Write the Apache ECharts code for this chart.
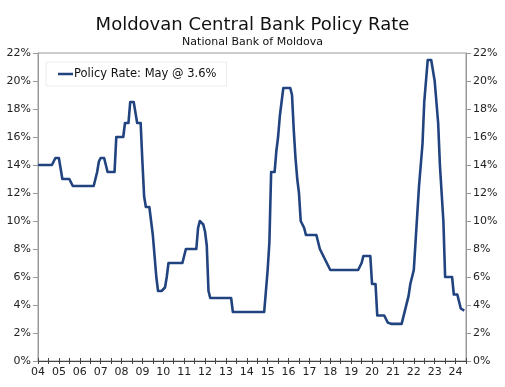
<!DOCTYPE html>
<html>
<head>
<meta charset="utf-8">
<script src="https://cdn.jsdelivr.net/npm/echarts@6/dist/echarts.min.js"></script>
<style>
html,body{margin:0;padding:0;background:#fff;}
#chart{width:505px;height:387px;}
</style>
</head>
<body>
<div id="chart"></div>
<script>
// Monthly policy rate (%), first value is Dec 2003, last is May 2024 (points at month end)
var firstYear = 2003, firstMonth = 12;
var policyRate = [
  14,
  14,14,14,14,14,14,14,14,14,14.5,14.5,14.5,                 // 2004
  14.5,13,13,13,13,13,13,12.5,12.5,12.5,12.5,12.5,           // 2005
  12.5,12.5,12.5,12.5,12.5,12.5,12.5,12.5,12.5,13.5,14.25,14.5, // 2006
  14.5,14.5,14.5,13.5,13.5,13.5,13.5,13.5,16,16,16,16,       // 2007
  16,17,17,17,18.5,18.5,18.5,18.5,17,17,17,14.25,            // 2008
  11.75,11,11,11,10,9,7.5,6,5,5,5,5,                         // 2009
  5.25,6,7,7,7,7,7,7,7,7,7,7,                                // 2010
  8,8,8,8,8,8,8,9.5,10,10,9.75,9.25,                         // 2011
  8.25,5,4.5,4.5,4.5,4.5,4.5,4.5,4.5,4.5,4.5,4.5,            // 2012
  4.5,4.5,4.5,3.5,3.5,3.5,3.5,3.5,3.5,3.5,3.5,3.5,           // 2013
  3.5,3.5,3.5,3.5,3.5,3.5,3.5,3.5,3.5,3.5,3.5,6.5,           // 2014
  8.5,13.5,13.5,13.5,15,16,17.5,17.5,19.5,19.5,19.5,19.5,    // 2015
  19.5,19,16.5,14.5,13,12,10,10,9.5,9,9,9,                   // 2016
  9,9,9,9,9,8,8,7.5,7.25,7,6.75,6.5,                         // 2017
  6.5,6.5,6.5,6.5,6.5,6.5,6.5,6.5,6.5,6.5,6.5,6.5,           // 2018
  6.5,6.5,6.5,6.5,6.5,7,7.5,7.5,7.5,7.5,7.5,5.5,             // 2019
  5.5,5.5,3.25,3.25,3.25,3.25,3.25,3,2.75,2.65,2.65,2.65,    // 2020
  2.65,2.65,2.65,2.65,2.65,2.65,3.65,3.65,4.65,5.5,5.5,6.5,  // 2021
  8.5,10.5,12.5,12.5,15.5,18.5,18.5,21.5,21.5,21.5,21.5,20,  // 2022
  20,17,14,14,10,6,6,6,6,6,4.75,4.75,                        // 2023
  4.75,4.25,3.75,3.75,3.6                                    // 2024
];
var yearLabels = ['04','05','06','07','08','09','10','11','12','13','14','15','16','17','18','19','20','21','22','23','24'];
var yTicks = [0,2,4,6,8,10,12,14,16,18,20,22];
var titleText = 'Moldovan Central Bank Policy Rate';
var subtitleText = 'National Bank of Moldova';
var seriesName = 'Policy Rate: May @ 3.6%';

var points = policyRate.map(function(v, i){
  var mIndex = (firstMonth) + i; // months since start of firstYear (month-end)
  return [firstYear + mIndex / 12, v];
});

var FONT = 'DejaVu Sans';
var chart = echarts.init(document.getElementById('chart'), null, {renderer:'canvas'});
function xLabel(v){
  var r = Math.round(v);
  if (Math.abs(v - r) > 1e-6) return '';
  var idx = r - 2004;
  return (idx >= 0 && idx < yearLabels.length) ? yearLabels[idx] : '';
}
var yAxisCommon = {
  type:'value', min: yTicks[0], max: yTicks[yTicks.length-1], interval: 2,
  splitLine:{show:false},
  axisLine:{show:true, lineStyle:{color:'#9a9a9a', width:1}},
  axisTick:{show:true, length:5, lineStyle:{color:'#9a9a9a'}},
  axisLabel:{formatter:'{value}%', color:'#222', fontFamily:FONT, fontSize:11, margin:7}
};
chart.setOption({
  animation:false,
  backgroundColor:'#fff',
  title:[
    {text:titleText, left:'center', top:11, textStyle:{fontFamily:FONT, fontSize:18, fontWeight:'normal', color:'#111'}},
    {text:subtitleText, left:'center', top:32, textStyle:{fontFamily:FONT, fontSize:11, fontWeight:'normal', color:'#111'}}
  ],
  legend:{
    left:46, top:62, padding:[6,10,6,12], orient:'vertical',
    backgroundColor:'#fff', borderColor:'#ececec', borderWidth:1,
    icon:'rect', itemWidth:15, itemHeight:2.5, itemGap:0,
    textStyle:{fontFamily:FONT, fontSize:11.5, color:'#111', padding:[0,0,0,-4]},
    data:[seriesName]
  },
  grid:{left:38, right:39, top:53, bottom:26, show:true, borderColor:'#9a9a9a', borderWidth:1},
  xAxis:[
    {type:'value', min:2004, max:2024.5, interval:0.5, position:'bottom',
     splitLine:{show:false},
     axisLine:{show:true, onZero:false, lineStyle:{color:'#444', width:1}},
     axisTick:{show:true, length:3, lineStyle:{color:'#444'}},
     axisLabel:{formatter:xLabel, color:'#222', fontFamily:FONT, fontSize:11, margin:6, showMaxLabel:true}},
    {type:'value', min:2004, max:2024.5, interval:0.5, position:'bottom',
     splitLine:{show:false},
     axisLine:{show:false},
     axisTick:{show:true, inside:true, length:3, lineStyle:{color:'#444'}},
     axisLabel:{show:false}}
  ],
  yAxis:[
    Object.assign({}, yAxisCommon, {position:'left'}),
    Object.assign({}, yAxisCommon, {position:'right'})
  ],
  series:[{
    name:seriesName, type:'line', xAxisIndex:0, yAxisIndex:0,
    data:points, symbol:'none', showSymbol:false,
    lineStyle:{color:'#21437f', width:2.6, join:'round'},
    itemStyle:{color:'#21437f'}
  }]
});
</script>
</body>
</html>
